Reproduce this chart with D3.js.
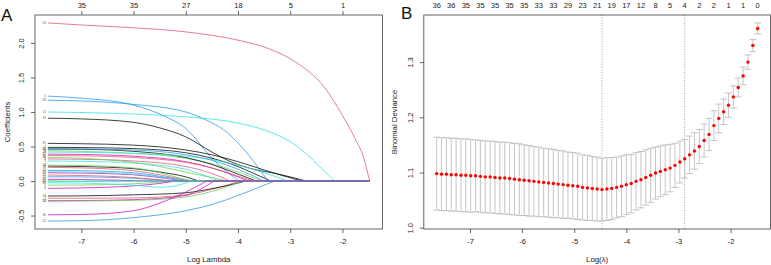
<!DOCTYPE html>
<html>
<head>
<meta charset="utf-8">
<script src="https://cdn.jsdelivr.net/npm/d3@7"></script>
<style>
  body{margin:0;background:#fff;}
  svg{display:block;font-family:"Liberation Sans",Arial,Helvetica,sans-serif;}
</style>
</head>
<body>
<svg id="chart" width="771" height="265"></svg>
<script>
// R default palette used by matplot (col = 1:6)
const PALETTE = ["#000000","#DF536B","#61D04F","#2297E6","#28E2E5","#CD0BBC"];

// log(lambda) path shared by both panels
const logLambda = [
  -7.64,-7.547,-7.453,-7.36,-7.267,-7.173,-7.08,-6.987,-6.893,-6.80,
  -6.707,-6.613,-6.52,-6.427,-6.333,-6.24,-6.147,-6.053,-5.96,-5.867,
  -5.773,-5.68,-5.587,-5.493,-5.40,-5.307,-5.213,-5.12,-5.027,-4.933,
  -4.84,-4.747,-4.653,-4.56,-4.467,-4.373,-4.28,-4.187,-4.093,-4.00,
  -3.907,-3.813,-3.72,-3.627,-3.533,-3.44,-3.347,-3.253,-3.16,-3.067,
  -2.973,-2.88,-2.787,-2.693,-2.60,-2.507,-2.413,-2.32,-2.227,-2.133,
  -2.04,-1.947,-1.853,-1.76,-1.667,-1.573,-1.48
];

// ---- panel A : coefficient paths ----
const coefIds = [20,4,28,11,13,31,7,34,25,9,29,18,32,15,8,5,33,1,26,16,23,12,14,10,30,21,35,17,3,6,19,2,24,27,36,22];
const coefPaths = [
  [[-7.64,2.29],[-7,2.26],[-6,2.22],[-5,2.16],[-4,2.04],[-3.42,1.92],[-2.87,1.71],[-2.36,1.37],[-2.0,0.95],[-1.75,0.60],[-1.6,0.35],[-1.48,0]],
  [[-7.64,1.23],[-7,1.20],[-6,1.10],[-5.5,0.97],[-5,0.76],[-4.46,0.30],[-3.98,0]],
  [[-7.64,1.17],[-7,1.16],[-6,1.11],[-5,1.0],[-4.6,0.88],[-4.27,0.74],[-3.8,0.38],[-3.43,0]],
  [[-7.64,1.0],[-6,0.97],[-5,0.93],[-4,0.84],[-3.5,0.74],[-3,0.57],[-2.7,0.40],[-2.4,0.18],[-2.15,0]],
  [[-7.64,0.91],[-7,0.90],[-6,0.85],[-5.5,0.77],[-5,0.64],[-4.5,0.42],[-4.17,0.29],[-3.7,0.17],[-3.28,0.11],[-3,0.06],[-2.69,0]],
  [[-7.64,0.546],[-7,0.54],[-6,0.52],[-5,0.45],[-4.5,0.38],[-4,0.28],[-3.5,0.16],[-3.2,0.09],[-2.78,0]],
  [[-7.64,0.488],[-7,0.485],[-6,0.47],[-5,0.41],[-4.5,0.33],[-4,0.21],[-3.7,0.11],[-3.37,0]],
  [[-7.64,0.47],[-7,0.465],[-6,0.45],[-5,0.38],[-4.5,0.30],[-4,0.17],[-3.5,0]],
  [[-7.64,0.464],[-7,0.46],[-6,0.43],[-5,0.34],[-4.5,0.24],[-4,0.10],[-3.65,0]],
  [[-7.64,0.44],[-7,0.43],[-6,0.40],[-5,0.33],[-4.5,0.25],[-4,0.13],[-3.55,0]],
  [[-7.64,0.42],[-7,0.415],[-6,0.40],[-5,0.36],[-4.5,0.31],[-4,0.23],[-3.5,0.12],[-3.05,0]],
  [[-7.64,0.39],[-7,0.385],[-6,0.36],[-5,0.28],[-4.5,0.19],[-4,0.06],[-3.8,0]],
  [[-7.64,0.37],[-7,0.365],[-6,0.34],[-5,0.27],[-4.5,0.19],[-4,0.07],[-3.7,0]],
  [[-7.64,0.343],[-7,0.33],[-6,0.27],[-5.5,0.21],[-5,0.13],[-4.5,0.05],[-4.2,0]],
  [[-7.64,0.32],[-7,0.315],[-6,0.29],[-5,0.21],[-4.5,0.11],[-4.15,0]],
  [[-7.64,0.29],[-7,0.285],[-6,0.26],[-5,0.17],[-4.6,0.07],[-4.35,0]],
  [[-7.64,0.23],[-7,0.225],[-6,0.19],[-5.5,0.12],[-5.1,0.04],[-4.87,0]],
  [[-7.64,0.217],[-7,0.21],[-6,0.18],[-5.5,0.13],[-5,0.06],[-4.75,0]],
  [[-7.64,0.198],[-7,0.19],[-6,0.15],[-5.5,0.09],[-4.92,0]],
  [[-7.64,0.155],[-7,0.15],[-6,0.12],[-5.5,0.07],[-4.95,0]],
  [[-7.64,0.135],[-7,0.13],[-6,0.10],[-5.5,0.06],[-4.98,0]],
  [[-7.64,0.12],[-7,0.115],[-6,0.09],[-5.5,0.05],[-5.05,0]],
  [[-7.64,0.087],[-7,0.08],[-6,0.05],[-5.3,0]],
  [[-7.64,0.062],[-7,0.06],[-6,0.04],[-5.25,0]],
  [[-7.64,0.025],[-7,0.022],[-6.3,0.012],[-5.75,0]],
  [[-7.64,0.005],[-7.3,0]],
  [[-7.64,-0.01],[-7,-0.008],[-6.3,-0.004],[-5.9,0]],
  [[-7.64,-0.025],[-7,-0.03],[-6,-0.06],[-5.5,-0.09],[-5.2,-0.07],[-4.9,0]],
  [[-7.64,-0.06],[-7,-0.058],[-6,-0.04],[-5.15,0]],
  [[-7.64,-0.106],[-7,-0.10],[-6,-0.07],[-5.5,-0.035],[-5.2,0]],
  [[-7.64,-0.217],[-7,-0.215],[-6,-0.20],[-5,-0.17],[-4.5,-0.11],[-4,-0.03],[-3.85,0]],
  [[-7.64,-0.25],[-7,-0.25],[-6,-0.245],[-5,-0.20],[-4.5,-0.12],[-3.95,0]],
  [[-7.64,-0.285],[-7,-0.283],[-6,-0.27],[-5,-0.21],[-4.8,-0.15],[-4.46,0]],
  [[-7.64,-0.294],[-7,-0.29],[-6,-0.28],[-5,-0.23],[-4.5,-0.15],[-3.9,0]],
  [[-7.64,-0.49],[-7,-0.485],[-6,-0.43],[-5.5,-0.32],[-5,-0.16],[-4.6,0]],
  [[-7.64,-0.58],[-7,-0.575],[-6,-0.53],[-5,-0.43],[-4.5,-0.34],[-4,-0.21],[-3.6,-0.09],[-3.3,0]]
];
const coefXTicks = [-7,-6,-5,-4,-3,-2];
const coefDfLabels = ["35","35","27","18","5","1"];
const coefYTicks = [-0.5,0,0.5,1,1.5,2];

// ---- panel B : cross-validated binomial deviance ----
const cvm = [
  1.098,1.097,1.097,1.096,1.096,1.095,1.095,1.094,1.094,1.093,
  1.092,1.092,1.091,1.090,1.090,1.089,1.088,1.087,1.086,1.085,
  1.084,1.083,1.082,1.081,1.080,1.079,1.078,1.077,1.076,1.075,
  1.073,1.072,1.071,1.070,1.069,1.070,1.071,1.073,1.075,1.078,
  1.080,1.084,1.087,1.091,1.095,1.099,1.102,1.105,1.108,1.113,
  1.119,1.125,1.132,1.139,1.147,1.158,1.169,1.185,1.198,1.210,
  1.222,1.237,1.254,1.275,1.300,1.330,1.361
];
const cvsd = [
  0.066,0.066,0.066,0.066,0.066,0.066,0.066,0.066,0.065,0.065,
  0.065,0.065,0.065,0.065,0.065,0.065,0.065,0.065,0.064,0.064,
  0.063,0.063,0.062,0.062,0.062,0.061,0.061,0.060,0.060,0.060,
  0.059,0.059,0.058,0.058,0.057,0.057,0.056,0.055,0.055,0.054,
  0.053,0.052,0.051,0.050,0.049,0.047,0.046,0.045,0.043,0.040,
  0.038,0.035,0.034,0.033,0.031,0.030,0.029,0.027,0.026,0.023,
  0.022,0.020,0.017,0.016,0.013,0.011,0.010
];
// number of non-zero coefficients, printed at every third lambda
const nzLabels = ["36","36","35","35","35","35","35","33","33","29","23","21","19","17","12","8","5","4","2","2","1","1","0"];
const devXTicks = [-7,-6,-5,-4,-3,-2];
const devYTicks = [1.0,1.1,1.2,1.3];
const logLambdaMin = -4.467;
const logLambda1se = -2.88;

const PA = {left:35, right:382.5, top:15, bottom:229};
const PB = {left:423.8, right:770.5, top:15, bottom:229};
const AXIS = "#555";
const TXT = "#222";

const svg = d3.select("#chart");

// R pads the data range by 4% on each side
function padded(ext){
  const p = (ext[1]-ext[0])*0.04;
  return [ext[0]-p, ext[1]+p];
}

function box(p){
  svg.append("rect")
    .attr("x",p.left).attr("y",p.top)
    .attr("width",p.right-p.left).attr("height",p.bottom-p.top)
    .attr("fill","none").attr("stroke",AXIS).attr("stroke-width",0.9);
}

function styleAxis(sel){
  sel.select(".domain").remove();
  sel.selectAll("line").attr("stroke",AXIS).attr("stroke-width",0.9);
  sel.selectAll("text").attr("fill",TXT).style("font-size","7.5px")
    .style("font-family","'Liberation Sans',Arial,sans-serif");
}

function bottomAxis(x,p,ticks){
  svg.append("g")
    .attr("transform",`translate(0,${p.bottom})`)
    .call(d3.axisBottom(x).tickValues(ticks).tickSize(4).tickPadding(6).tickFormat(d=>String(d)))
    .call(styleAxis);
}

function leftAxis(y,p,ticks){
  const g = svg.append("g")
    .attr("transform",`translate(${p.left},0)`)
    .call(d3.axisLeft(y).tickValues(ticks).tickSize(4).tickFormat(d=>d.toFixed(1)))
    .call(styleAxis);
  g.selectAll("text")
    .attr("x",0).attr("y",-11).attr("dy",null)
    .attr("text-anchor","middle")
    .attr("transform","rotate(-90)");
}

function titles(p,xt,yt,yx){
  svg.append("text")
    .attr("x",(p.left+p.right)/2).attr("y",261.5)
    .attr("text-anchor","middle").attr("fill",TXT)
    .style("font-size","7.8px").text(xt);
  svg.append("text")
    .attr("transform",`translate(${yx},${(p.top+p.bottom)/2}) rotate(-90)`)
    .attr("text-anchor","middle").attr("dy","0.35em").attr("fill",TXT)
    .style("font-size","7.8px").text(yt);
}

// ───── PANEL A ─────
const xA = d3.scaleLinear().domain(padded(d3.extent(logLambda))).range([PA.left,PA.right]);
const allCoef = coefPaths.flat().map(d=>d[1]);
const yA = d3.scaleLinear().domain(padded(d3.extent(allCoef))).range([PA.bottom,PA.top]);
const lambdaMax = d3.max(logLambda);

const coefLine = d3.line()
  .x(d=>xA(d[0]))
  .y(d=>yA(d[1]))
  .curve(d3.curveMonotoneX);

const coefData = coefIds.map((id,i)=>({id, pts:coefPaths[i]}))
  .sort((a,b)=>a.id-b.id);

svg.append("g")
  .selectAll("path")
  .data(coefData)
  .join("path")
  .attr("d",d=>coefLine(d.pts)+`L${xA(lambdaMax)},${yA(0)}`)
  .attr("fill","none")
  .attr("stroke",d=>PALETTE[(d.id-1)%6])
  .attr("stroke-width",0.75);

// variable labels at the left end of each path (tiny, cex = 0.5 in R)
svg.append("g")
  .selectAll("text")
  .data(coefData)
  .join("text")
  .attr("x",d=>xA(d.pts[0][0])-2)
  .attr("y",d=>yA(d.pts[0][1]))
  .attr("dy","0.35em")
  .attr("text-anchor","end")
  .attr("fill","#555")
  .style("font-size","3px")
  .text(d=>d.id);

box(PA);
bottomAxis(xA,PA,coefXTicks);
leftAxis(yA,PA,coefYTicks);

svg.append("g")
  .attr("transform",`translate(0,${PA.top})`)
  .call(d3.axisTop(xA).tickValues(coefXTicks).tickSize(4).tickPadding(3)
    .tickFormat((d,i)=>coefDfLabels[i]))
  .call(styleAxis);

titles(PA,"Log Lambda","Coefficients",7);

svg.append("text")
  .attr("x",1).attr("y",20.5)
  .attr("fill","#111").style("font-size","17px")
  .text("A");

// ───── PANEL B ─────
const xB = d3.scaleLinear().domain(padded(d3.extent(logLambda))).range([PB.left,PB.right]);
const cvup = cvm.map((m,i)=>m+cvsd[i]);
const cvlo = cvm.map((m,i)=>m-cvsd[i]);
const yB = d3.scaleLinear().domain(padded([d3.min(cvlo),d3.max(cvup)])).range([PB.bottom,PB.top]);

const cvData = logLambda.map((l,i)=>({l, m:cvm[i], up:cvup[i], lo:cvlo[i]}));

// dotted lines at lambda.min and lambda.1se
svg.append("g")
  .selectAll("line")
  .data([logLambdaMin,logLambda1se])
  .join("line")
  .attr("x1",d=>xB(d)).attr("x2",d=>xB(d))
  .attr("y1",PB.top).attr("y2",PB.bottom)
  .attr("stroke","#8a8a8a")
  .attr("stroke-width",0.8)
  .attr("stroke-dasharray","1,1.6");

const bars = svg.append("g")
  .attr("stroke","#b8b8b8")
  .attr("stroke-width",0.8);

const CAP = 3.5;

bars.selectAll(".bar")
  .data(cvData)
  .join("line")
  .attr("class","bar")
  .attr("x1",d=>xB(d.l)).attr("x2",d=>xB(d.l))
  .attr("y1",d=>yB(d.up)).attr("y2",d=>yB(d.lo));

bars.selectAll(".capU")
  .data(cvData)
  .join("line")
  .attr("class","capU")
  .attr("x1",d=>xB(d.l)-CAP).attr("x2",d=>xB(d.l)+CAP)
  .attr("y1",d=>yB(d.up)).attr("y2",d=>yB(d.up));

bars.selectAll(".capL")
  .data(cvData)
  .join("line")
  .attr("class","capL")
  .attr("x1",d=>xB(d.l)-CAP).attr("x2",d=>xB(d.l)+CAP)
  .attr("y1",d=>yB(d.lo)).attr("y2",d=>yB(d.lo));

svg.append("g")
  .selectAll("circle")
  .data(cvData)
  .join("circle")
  .attr("cx",d=>xB(d.l))
  .attr("cy",d=>yB(d.m))
  .attr("r",1.7)
  .attr("fill","#ff0000");

box(PB);
bottomAxis(xB,PB,devXTicks);
leftAxis(yB,PB,devYTicks);

// top labels: non-zero counts, no tick marks
svg.append("g")
  .selectAll("text")
  .data(nzLabels)
  .join("text")
  .attr("x",(d,k)=>xB(logLambda[k*3]))
  .attr("y",7.8)
  .attr("text-anchor","middle")
  .attr("fill",TXT)
  .style("font-size","7.5px")
  .text(d=>d);

titles(PB,"Log(\u03bb)","Binomial Deviance",394.5);

svg.append("text")
  .attr("x",401).attr("y",19)
  .attr("fill","#111").style("font-size","17px")
  .text("B");
</script>
</body>
</html>
